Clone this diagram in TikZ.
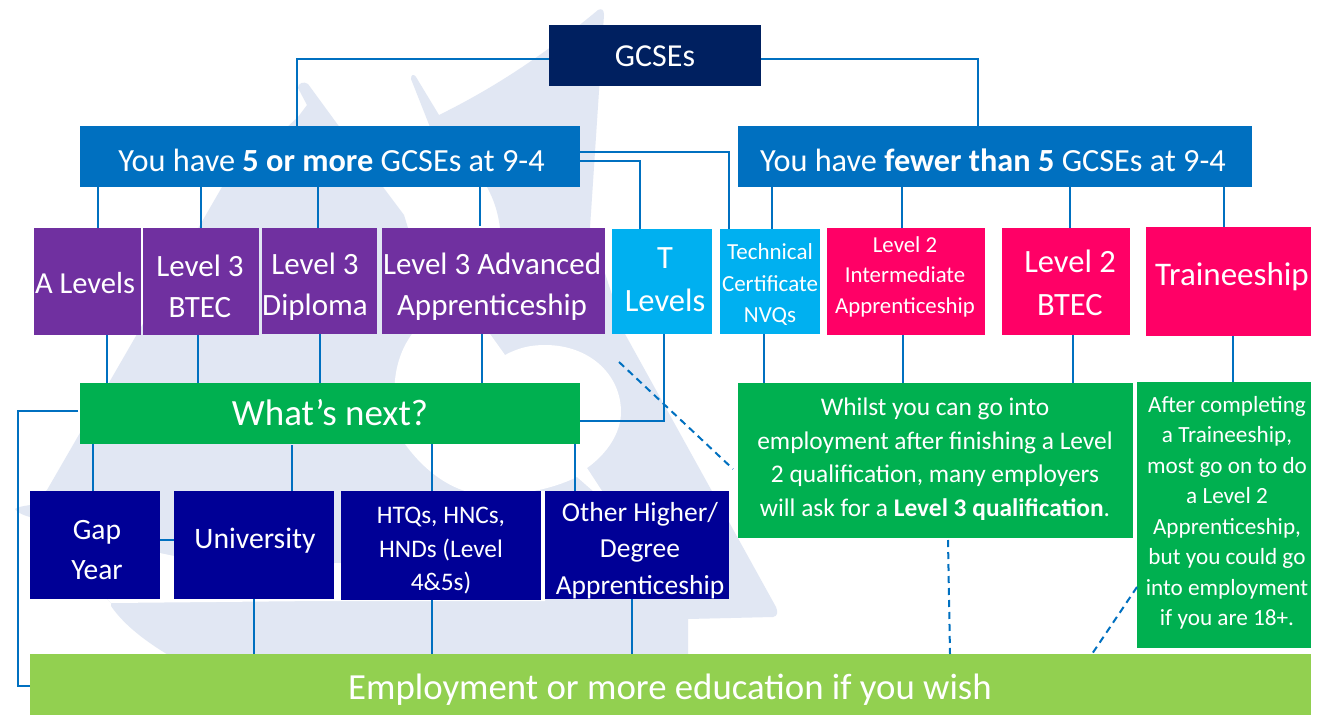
\documentclass[tikz,border=0pt]{standalone}
\usepackage{fontspec}
\setmainfont{Carlito}
\definecolor{cgcse}{HTML}{002060}
\definecolor{cblue}{HTML}{0070C0}
\definecolor{cpurple}{HTML}{7030A0}
\definecolor{ccyan}{HTML}{00B0F0}
\definecolor{cpink}{HTML}{FF0066}
\definecolor{cgreen}{HTML}{00B050}
\definecolor{cnavy}{HTML}{000096}
\definecolor{clime}{HTML}{92D050}
\definecolor{cwm}{HTML}{E1E7F3}
\tikzset{
  bx/.style args={#1/#2/#3/#4}{rectangle,inner sep=0pt,outer sep=0pt,
    minimum width={(#3-#1)*1pt},minimum height={(#4-#2)*1pt},
    at={({(#1+#3)/2},{(#2+#4)/2})}},
  lab/.style args={#1/#2}{text=white,align=center,inner sep=0pt,outer sep=0pt,
    font=\fontsize{#1}{#2}\selectfont},
  conn/.style={draw=cblue,line width=2pt},
  dash conn/.style={draw=cblue,line width=2pt,dash pattern=on 7pt off 5pt},
}
\newcommand\vc[3]{\draw[conn] (#1,0 |- #2.south) -- (#1,0 |- #3.north);}
\begin{document}
\begin{tikzpicture}[x=1pt,y=-1pt]
\useasboundingbox (0,0) rectangle (1342,726);
\fill[white] (0,0) rectangle (1342,726);
% watermark
\fill[cwm] (598,10) .. controls (602,8) and (604,10) .. (604,15) -- (590,228) -- (625,334) -- (776,607)
  .. controls (778,612) and (778,616) .. (773,617) -- (688,619) -- (688,656) -- (170,656)
  .. controls (140,638) and (122,622) .. (111,606) -- (111,603) -- (30,517)
  .. controls (22,515) and (17,512) .. (15,509) .. controls (17,507) and (24,506) .. (30,505)
  -- (47,490) -- (222,187) -- (298,117) -- (307,105) -- (298,88)
  .. controls (298,83) and (304,81) .. (308,84) -- (338,125) -- (383,187) -- (404,215) -- (408,228)
  -- (500,228) .. controls (498,212) and (494,200) .. (487,187) -- (430,127) -- (411,79)
  .. controls (411,74) and (414,74) .. (416,77) -- (439,115) .. controls (500,85) and (550,50) .. (598,10) -- cycle;
\fill[white] (30,517) .. controls (70,530) and (120,545) .. (174,556) .. controls (230,565) and (290,565) .. (341,563)
  -- (530,563) -- (541,491) -- (560,491) -- (560,598) -- (545,598) -- (545,601) -- (320,601) -- (111,603) -- cycle;
\fill[white] (490,334) -- (505,355) .. controls (518,348) and (530,345) .. (545,345)
  .. controls (590,345) and (621,375) .. (621,412) .. controls (621,432) and (608,453) .. (587,468)
  -- (602,491) -- (593,491) -- (577,477) .. controls (550,490) and (520,495) .. (490,495)
  .. controls (450,495) and (420,465) .. (405,444) .. controls (395,425) and (393,400) .. (395,380)
  .. controls (397,360) and (404,345) .. (412,334) -- cycle;
% boxes
\node[bx=549/25/761/86,fill=cgcse] (gcse) {};
\node[bx=80/126/580/187,fill=cblue] (more) {};
\node[bx=738/126/1252/187,fill=cblue] (fewer) {};
\node[bx=34/228/141/335,fill=cpurple] (alev) {};
\node[bx=143/228/259/335,fill=cpurple] (btec3) {};
\node[bx=262/228/377/334,fill=cpurple] (dip3) {};
\node[bx=382/228/605/334,fill=cpurple] (adv3) {};
\node[bx=612/229/712/334,fill=ccyan] (tlev) {};
\node[bx=720/229/820/334,fill=ccyan] (tech) {};
\node[bx=827/228/985/335,fill=cpink] (inter2) {};
\node[bx=1002/228/1130/335,fill=cpink] (btec2) {};
\node[bx=1146/227/1311/336,fill=cpink] (train) {};
\node[bx=80/383/580/444,fill=cgreen] (next) {};
\node[bx=30/491/160/599,fill=cnavy] (gap) {};
\node[bx=174/491/334/599,fill=cnavy] (uni) {};
\node[bx=341/491/541/600,fill=cnavy] (htq) {};
\node[bx=545/491/729/599,fill=cnavy] (other) {};
\node[bx=738/383/1133/538,fill=cgreen] (whilst) {};
\node[bx=1137/382/1311/648,fill=cgreen] (after) {};
\node[bx=30/654/1311/715,fill=clime] (emp) {};
% connectors
\draw[conn] (gcse.west |- 0,59) -- (297,59) -- (297,0 |- more.north);
\draw[conn] (gcse.east |- 0,59) -- (978,59) -- (978,0 |- fewer.north);
\draw[conn] (more.east |- 0,152) -- (729,152) -- (729,0 |- tech.north);
\draw[conn] (more.east |- 0,161) -- (640,161) -- (640,0 |- tlev.north);
\vc{98}{more}{alev}\vc{201}{more}{btec3}\vc{318}{more}{dip3}
\draw[conn] (480,0 |- more.south) -- (480,226);
\vc{772}{fewer}{tech}\vc{902}{fewer}{inter2}\vc{1070}{fewer}{btec2}\vc{1224}{fewer}{train}
\vc{107}{alev}{next}\vc{198}{btec3}{next}\vc{320}{dip3}{next}\vc{482}{adv3}{next}
\draw[conn] (664,0 |- tlev.south) -- (664,421) -- (next.east |- 0,421);
\vc{764}{tech}{whilst}\vc{903}{inter2}{whilst}\vc{1073}{btec2}{whilst}\vc{1233}{train}{after}
\draw[conn] (78,411) -- (18,411) -- (18,686) -- (emp.west |- 0,686);
\vc{93}{next}{gap}
\draw[conn] (292,445) -- (292,0 |- uni.north);
\vc{432}{next}{htq}\vc{575}{next}{other}
\draw[conn] (gap.east |- 0,540) -- (uni.west |- 0,540);
\vc{254}{uni}{emp}\vc{432}{htq}{emp}\vc{632}{other}{emp}
\coordinate (dashA) at (619,362);
\coordinate (dashB) at (733,469);
\draw[dash conn] (dashA) -- (dashB);
\coordinate (dashC) at (948,540);
\draw[dash conn] (dashC) -- (950,0 |- emp.north);
\coordinate (dashD) at (1137,587);
\draw[dash conn] (dashD) -- (1092,0 |- emp.north);
% texts
\node[lab=32/35] (tgcse) at (655,56) {GCSEs};
\node[lab=32.3/35] (tmore) at (331.5,160) {You have \textbf{5 or more} GCSEs at 9-4};
\node[lab=32.3/35] (tfewer) at (993,160) {You have \textbf{fewer than 5} GCSEs at 9-4};
\node[lab=30.5/35] (talev) at (85,283) {A Levels};
\node[lab=31/41] (tbtec3) at (200,286) {Level 3\\BTEC};
\node[lab=31/41] (tdip3) at (315,287) {Level 3\\Diploma};
\node[lab=31/41] (tadv3) at (492,287) {Level 3 Advanced\\Apprenticeship};
\node[lab=32.5/43] (ttlev) at (665,280) {T\\Levels};
\node[lab=23/31.5] (ttech) at (770,285) {Technical\\Certificate\\NVQs};
\node[lab=22.8/30.5] (tinter2) at (905,276.5) {Level 2\\Intermediate\\Apprenticeship};
\node[lab=32.5/43] (tbtec2) at (1070,283) {Level 2\\BTEC};
\node[lab=33/35] (ttrain) at (1232,277) {Traineeship};
\node[lab=37/38] (tnext) at (330,413) {What’s next?};
\node[lab=29.5/40] (tgap) at (97,550) {Gap\\Year};
\node[lab=29.7/32] (tuni) at (255,541) {University};
\node[lab=25.3/33.5] (thtq) at (441,551) {HTQs, HNCs,\\HNDs (Level\\4\&5s)};
\node[lab=27.5/36.5] (tother) at (640,550.5) {Other Higher/\\Degree\\Apprenticeship};
\node[lab=25.4/33.5] (twhilst) at (935,459) {Whilst you can go into\\employment after finishing a Level\\2 qualification, many employers\\will ask for a \textbf{Level 3 qualification}.};
\node[lab=23.2/30.5] (tafter) at (1227,513) {After completing\\a Traineeship,\\most go on to do\\a Level 2\\Apprenticeship,\\but you could go\\into employment\\if you are 18+.};
\node[lab=36.8/40] (temp) at (670,690) {Employment or more education if you wish};
\end{tikzpicture}
\end{document}
